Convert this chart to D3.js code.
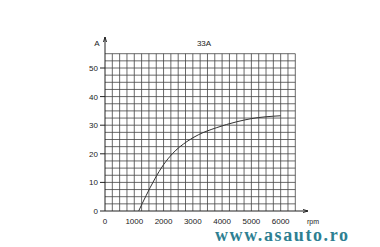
<!DOCTYPE html>
<html>
<head>
<meta charset="utf-8">
<script src="https://cdn.jsdelivr.net/npm/d3@7"></script>
<style>
  body { margin: 0; background: #fff; }
  .lab { font-family: "Liberation Sans Narrow", "Liberation Sans", Arial, sans-serif; }
</style>
</head>
<body>
<div id="chart"></div>
<script>
// Data
var rpm = [1150, 1400, 1700, 2000, 2300, 2800, 3200, 3800, 4500, 5000, 6000];
var amps = [0, 5.3, 11.2, 16.2, 20.0, 24.3, 26.7, 29.1, 31.2, 32.3, 33.3];
var xTicks = [0, 1000, 2000, 3000, 4000, 5000, 6000];
var yTicks = [0, 10, 20, 30, 40, 50];
var title = "33A";

var svgWidth = 380;
var svgHeight = 247;

var svg = d3.select("#chart")
  .append("svg")
  .attr("width", svgWidth)
  .attr("height", svgHeight);

// scales
var x = d3.scaleLinear().domain([0, 6500]).range([105, 295.3]);
var y = d3.scaleLinear().domain([0, 55]).range([211, 53.7]);

// grid
var grid = svg.append("g").attr("stroke", "#444").attr("stroke-width", 0.8);
grid.selectAll(".v")
  .data(d3.range(250, 6501, 250))
  .enter().append("line")
  .attr("x1", d => x(d)).attr("x2", d => x(d))
  .attr("y1", y(0)).attr("y2", y(55));
grid.selectAll(".h")
  .data(d3.range(2.5, 55.1, 2.5))
  .enter().append("line")
  .attr("x1", x(0)).attr("x2", x(6500))
  .attr("y1", d => y(d)).attr("y2", d => y(d));

// axes with arrows
var axes = svg.append("g").attr("stroke", "#222").attr("stroke-width", 1).attr("fill", "none");
axes.append("line").attr("x1", x(0)).attr("x2", x(0)).attr("y1", y(0)).attr("y2", 37);
axes.append("path").attr("d", `M${x(0) - 1.5},42 L${x(0)},37 L${x(0) + 1.5},42`);
axes.append("line").attr("x1", x(0)).attr("x2", 308).attr("y1", y(0)).attr("y2", y(0));
axes.append("path").attr("d", `M303,${y(0) - 1.5} L308,${y(0)} L303,${y(0) + 1.5}`);

// tick marks on y axis
axes.selectAll(".yt")
  .data(yTicks)
  .enter().append("line")
  .attr("x1", x(0) - 5).attr("x2", x(0))
  .attr("y1", d => y(d)).attr("y2", d => y(d));

// tick labels
svg.selectAll(".ylab")
  .data(yTicks)
  .enter().append("text")
  .attr("class", "lab")
  .attr("x", x(0) - 7)
  .attr("y", d => y(d) + 3)
  .attr("text-anchor", "end")
  .attr("font-size", "8px")
  .attr("fill", "#222")
  .text(d => d);

svg.selectAll(".xlab")
  .data(xTicks)
  .enter().append("text")
  .attr("class", "lab")
  .attr("x", d => x(d))
  .attr("y", 224)
  .attr("text-anchor", "middle")
  .attr("font-size", "8px")
  .attr("fill", "#222")
  .text(d => d);

svg.append("text")
  .attr("class", "lab")
  .attr("x", 313).attr("y", 224)
  .attr("text-anchor", "middle")
  .attr("font-size", "7px")
  .attr("fill", "#222")
  .text("rpm");

svg.append("text")
  .attr("class", "lab")
  .attr("x", 97).attr("y", 46)
  .attr("text-anchor", "middle")
  .attr("font-size", "8px")
  .attr("fill", "#222")
  .text("A");

svg.append("text")
  .attr("class", "lab")
  .attr("x", 204).attr("y", 46)
  .attr("text-anchor", "middle")
  .attr("font-size", "8px")
  .attr("fill", "#222")
  .text(title);

// the curve
var line = d3.line()
  .x(d => x(d[0]))
  .y(d => y(d[1]))
  .curve(d3.curveMonotoneX);

svg.append("path")
  .datum(d3.zip(rpm, amps))
  .attr("d", line)
  .attr("fill", "none")
  .attr("stroke", "#333")
  .attr("stroke-width", 1);

// watermark
svg.append("text")
  .attr("x", 215).attr("y", 241)
  .style("font-family", "'Liberation Serif', 'DejaVu Serif', serif")
  .style("font-weight", "bold")
  .style("font-size", "18px")
  .attr("fill", "#2e7f92")
  .attr("textLength", 133)
  .text("www.asauto.ro");
</script>
</body>
</html>
